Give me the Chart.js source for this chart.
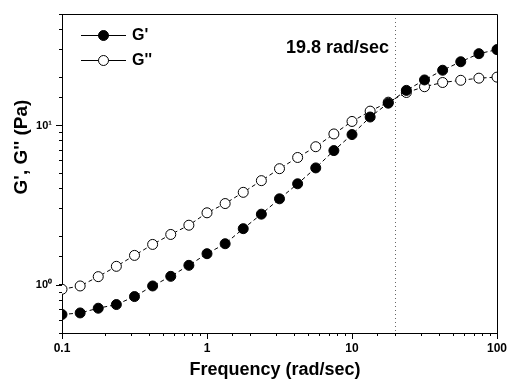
<!DOCTYPE html>
<html>
<head>
<meta charset="utf-8">
<script src="https://cdn.jsdelivr.net/npm/chart.js@4"></script>
<style>
html,body{margin:0;padding:0;background:#fff;}
canvas{display:block;}
</style>
</head>
<body>
<canvas id="c" width="508" height="379"></canvas>
<script>
// ---- data ----
const frequency = [0.1, 0.1334, 0.1778, 0.2371, 0.3162, 0.4217, 0.5623, 0.7499, 1, 1.334, 1.778, 2.371, 3.162, 4.217, 5.623, 7.499, 10, 13.34, 17.78, 23.71, 31.62, 42.17, 56.23, 74.99, 100];
const storageModulus = [0.653, 0.668, 0.715, 0.754, 0.846, 0.986, 1.133, 1.328, 1.571, 1.814, 2.255, 2.78, 3.47, 4.31, 5.42, 6.96, 8.77, 11.3, 13.8, 16.6, 19.3, 22.2, 25.1, 28.2, 29.9];
const lossModulus = [0.94, 0.986, 1.128, 1.309, 1.533, 1.796, 2.074, 2.37, 2.835, 3.24, 3.81, 4.51, 5.36, 6.30, 7.36, 8.85, 10.6, 12.3, 14.0, 16.1, 17.5, 18.6, 19.2, 19.8, 20.1];
const seriesNames = ["G'", "G''"];
const crossoverFreq = 19.8;
const crossoverLabel = "19.8 rad/sec";
const xTickValues = [0.1, 1, 10, 100];
const xTickLabels = ["0.1", "1", "10", "100"];
const yTickValues = [1, 10];
const yTickLabels = ["10\u2070", "10\u00B9"];
const xTitle = "Frequency (rad/sec)";
const yTitle = "G', G'' (Pa)";

const toXY = (xs, ys) => xs.map((x, i) => ({x: x, y: ys[i]}));
const findLabel = (vals, labels, v) => {
  for (let i = 0; i < vals.length; i++) if (Math.abs(vals[i] - v) / vals[i] < 1e-6) return labels[i];
  return '';
};
function logTicks(scale) {
  const out = [];
  const lo = Math.floor(Math.log10(scale.min)), hi = Math.ceil(Math.log10(scale.max));
  for (let d = lo; d <= hi; d++) {
    for (let m = 1; m <= 9; m++) {
      const v = m * Math.pow(10, d);
      if (v >= scale.min * 0.9999 && v <= scale.max * 1.0001) out.push({v: v, major: m === 1});
    }
  }
  return out;
}

const decor = {
  id: 'decor',
  beforeDatasetsDraw(chart) {
    const {ctx, chartArea: {top, bottom}, scales: {x}} = chart;
    const xc = Math.round(x.getPixelForValue(crossoverFreq)) + 0.5;
    ctx.save();
    ctx.strokeStyle = '#666';
    ctx.lineWidth = 1;
    ctx.setLineDash([1, 3]);
    ctx.beginPath();
    ctx.moveTo(xc, top);
    ctx.lineTo(xc, bottom);
    ctx.stroke();
    ctx.restore();
  },
  afterDraw(chart) {
    const {ctx, chartArea: {left, right, top, bottom}, scales: {x, y}} = chart;
    ctx.save();
    ctx.strokeStyle = '#000';
    ctx.lineWidth = 1;
    ctx.setLineDash([]);
    // frame
    ctx.beginPath();
    ctx.moveTo(left, top + 0.5);
    ctx.lineTo(right + 0.5, top + 0.5);
    ctx.lineTo(right + 0.5, bottom);
    ctx.stroke();
    // longer major tick marks (outward)
    ctx.beginPath();
    logTicks(x).filter(t => t.major).forEach(t => {
      const px = Math.round(x.getPixelForValue(t.v)) + 0.5;
      ctx.moveTo(px, bottom);
      ctx.lineTo(px, bottom + 6);
    });
    logTicks(y).filter(t => t.major).forEach(t => {
      const py = Math.round(y.getPixelForValue(t.v)) + 0.5;
      ctx.moveTo(left, py);
      ctx.lineTo(left - 6, py);
    });
    ctx.stroke();
    // crossover annotation
    const xc = x.getPixelForValue(crossoverFreq);
    ctx.fillStyle = '#000';
    ctx.font = 'bold 18px "Liberation Sans", Arial, sans-serif';
    ctx.textAlign = 'right';
    ctx.textBaseline = 'middle';
    ctx.fillText(crossoverLabel, xc - 6, 48);
    // axis titles
    ctx.font = 'bold 18px "Liberation Sans", Arial, sans-serif';
    ctx.textAlign = 'center';
    ctx.fillText(xTitle, 275, 370);
    ctx.save();
    ctx.translate(22, 147);
    ctx.rotate(-Math.PI / 2);
    ctx.font = 'bold 19px "Liberation Sans", Arial, sans-serif';
    ctx.fillText(yTitle, 0, 0);
    ctx.restore();
    // legend
    const legendY = [35, 60];
    chart.data.datasets.forEach((ds, i) => {
      const ly = legendY[i] + 0.5;
      ctx.strokeStyle = '#000';
      ctx.lineWidth = 1;
      ctx.beginPath();
      ctx.moveTo(81, ly);
      ctx.lineTo(126, ly);
      ctx.stroke();
      ctx.beginPath();
      ctx.arc(103.5, ly, 5, 0, Math.PI * 2);
      ctx.fillStyle = ds.pointBackgroundColor;
      ctx.fill();
      ctx.stroke();
      ctx.fillStyle = '#000';
      ctx.font = 'bold 16px "Liberation Sans", Arial, sans-serif';
      ctx.textAlign = 'left';
      ctx.textBaseline = 'middle';
      ctx.fillText(ds.label, 132, ly);
    });
    ctx.restore();
  }
};

const tickGrid = {display: true, drawOnChartArea: false, drawTicks: true, tickLength: 3, color: '#000', tickColor: '#000', tickWidth: 1};

new Chart(document.getElementById('c'), {
  type: 'line',
  data: {
    datasets: [
      {
        label: seriesNames[0],
        data: toXY(frequency, storageModulus),
        borderColor: '#000',
        borderWidth: 1,
        borderDash: [4, 3],
        pointRadius: 5,
        pointBorderWidth: 1,
        pointBackgroundColor: '#000',
        pointBorderColor: '#000',
        tension: 0,
        clip: 0
      },
      {
        label: seriesNames[1],
        data: toXY(frequency, lossModulus),
        borderColor: '#000',
        borderWidth: 1,
        borderDash: [4, 3],
        pointRadius: 5,
        pointBorderWidth: 1,
        pointBackgroundColor: '#fff',
        pointBorderColor: '#000',
        tension: 0,
        clip: 0
      }
    ]
  },
  options: {
    responsive: false,
    animation: false,
    layout: {padding: {top: 14, right: 11, left: 0, bottom: 0}},
    plugins: {legend: {display: false}, tooltip: {enabled: false}},
    scales: {
      x: {
        type: 'logarithmic',
        min: 0.1,
        max: 100,
        afterFit: s => { s.height = 46; s.paddingLeft = 0; s.paddingRight = 0; },
        grid: tickGrid,
        border: {display: true, color: '#000', width: 1},
        ticks: {
          autoSkip: false,
          maxRotation: 0,
          padding: 5,
          color: '#000',
          font: {family: '"Liberation Sans", Arial, sans-serif', size: 12, weight: 'bold'},
          callback: v => findLabel(xTickValues, xTickLabels, v)
        }
      },
      y: {
        type: 'logarithmic',
        min: 0.5,
        max: 50,
        afterFit: s => { s.width = 62; s.paddingTop = 0; s.paddingBottom = 0; },
        grid: tickGrid,
        border: {display: true, color: '#000', width: 1},
        ticks: {
          autoSkip: false,
          padding: 7,
          color: '#000',
          font: {family: '"Liberation Sans", Arial, sans-serif', size: 11, weight: 'bold'},
          callback: v => findLabel(yTickValues, yTickLabels, v)
        }
      }
    }
  },
  plugins: [decor]
});
</script>
</body>
</html>
